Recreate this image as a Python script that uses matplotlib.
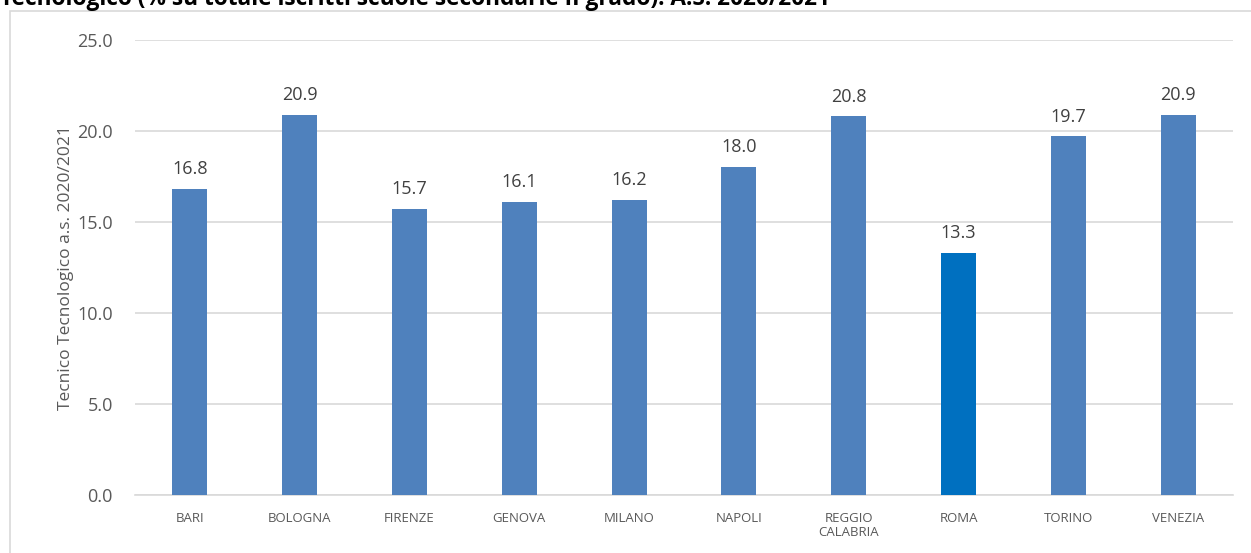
import matplotlib.pyplot as plt
from matplotlib.patches import Rectangle

# Data
cities = ['BARI', 'BOLOGNA', 'FIRENZE', 'GENOVA', 'MILANO', 'NAPOLI',
          'REGGIO\nCALABRIA', 'ROMA', 'TORINO', 'VENEZIA']
values = [16.8, 20.9, 15.7, 16.1, 16.2, 18.0, 20.8, 13.3, 19.7, 20.9]
highlight = 'ROMA'
y_ticks = [0, 5, 10, 15, 20, 25]

title = 'Tecnologico (% su totale iscritti scuole secondarie II grado). A.S. 2020/2021'
y_label = 'Tecnico Tecnologico a.s. 2020/2021'

plt.rcParams['font.family'] = ['Open Sans', 'DejaVu Sans']
text_col = '#595959'

fig = plt.figure(figsize=(12.51, 5.53), dpi=100)
ax = fig.add_axes([135 / 1251, 1 - 495 / 553, 1098 / 1251, 455 / 553])

# Outer chart frame (light grey)
fig.patches.append(Rectangle((10 / 1251, -0.05), 1.2, 1 - 11 / 553 + 0.05,
                             transform=fig.transFigure, fill=False,
                             edgecolor='#D9D9D9', linewidth=1.2))

colors = ['#0070C0' if c == highlight else '#4F81BD' for c in cities]
x = range(len(cities))
bars = ax.bar(x, values, width=0.32, color=colors, zorder=3)

for b, v in zip(bars, values):
    ax.text(b.get_x() + b.get_width() / 2, v + 0.6, f'{v:.1f}',
            ha='center', va='bottom', fontsize=13, color='#404040')

ax.set_xlim(-0.5, len(cities) - 0.5)
ax.set_ylim(0, 25)
ax.set_yticks(y_ticks)
ax.set_yticklabels([f'{t:.1f}' for t in y_ticks], fontsize=13, color=text_col)
ax.set_xticks(list(x))
ax.set_xticklabels(cities, fontsize=9.5, color=text_col, linespacing=1.15)
ax.tick_params(axis='both', length=0)
ax.tick_params(axis='y', pad=16)
ax.tick_params(axis='x', pad=12)

ax.yaxis.grid(True, color='#D9D9D9', linewidth=1.2, zorder=0)
for s in ['top', 'right', 'left']:
    ax.spines[s].set_visible(False)
ax.spines['bottom'].set_color('#D9D9D9')
ax.spines['bottom'].set_linewidth(1.2)

ax.set_ylabel(y_label, fontsize=12.5, color=text_col, labelpad=2)

# Title, clipped by the top edge as in the reference
fig.text(0.0, 1 - 5 / 553, title, ha='left', va='baseline',
         fontsize=16.3, fontweight='bold', color='black')

fig.savefig('out.png', dpi=100)
